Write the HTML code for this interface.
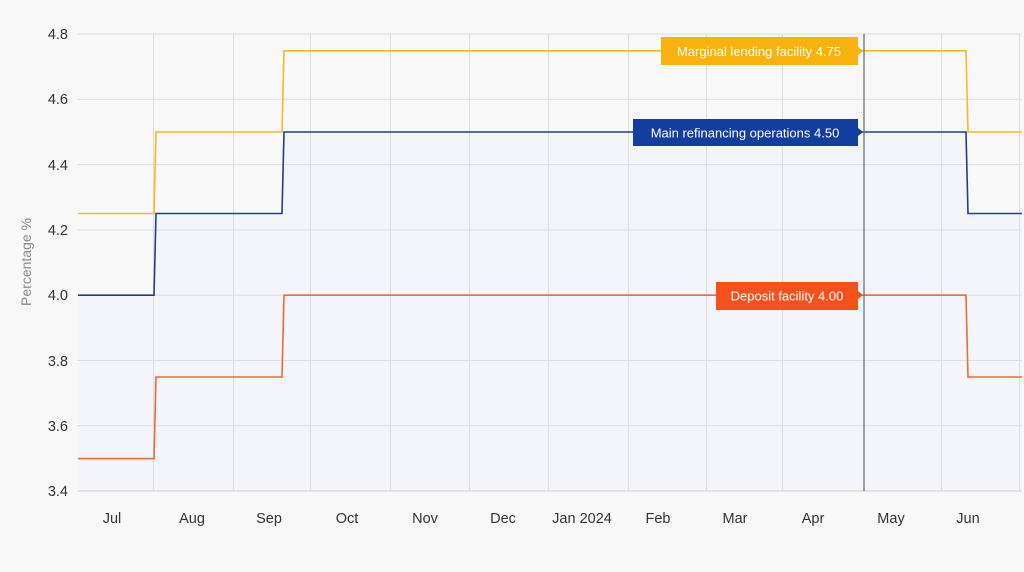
<!DOCTYPE html>
<html><head><meta charset="utf-8"><style>
html,body{margin:0;padding:0;background:#f8f8f9;}
svg{display:block;font-family:"Liberation Sans","DejaVu Sans",sans-serif;}
</style></head><body>
<svg width="1024" height="572" viewBox="0 0 1024 572">
<rect width="1024" height="572" fill="#f8f8f9"/>
<path d="M78,295 H154 L156,213.5 H282 L284,132 H966 L968,213.5 H1022 V491 H78Z" fill="#eef2fb" opacity="0.45"/>
<g stroke="#dcdde3" stroke-width="1">
<line x1="77" x2="1022" y1="34" y2="34"/><line x1="77" x2="1022" y1="99.3" y2="99.3"/>
<line x1="77" x2="1022" y1="164.6" y2="164.6"/><line x1="77" x2="1022" y1="229.9" y2="229.9"/>
<line x1="77" x2="1022" y1="295.2" y2="295.2"/><line x1="77" x2="1022" y1="360.5" y2="360.5"/>
<line x1="77" x2="1022" y1="425.8" y2="425.8"/><line x1="77" x2="1022" y1="491" y2="491" stroke="#cfd0d6"/>
<line x1="153.5" x2="153.5" y1="34" y2="491"/><line x1="233.5" x2="233.5" y1="34" y2="491"/>
<line x1="310.5" x2="310.5" y1="34" y2="491"/><line x1="390.5" x2="390.5" y1="34" y2="491"/>
<line x1="469.5" x2="469.5" y1="34" y2="491"/><line x1="548.5" x2="548.5" y1="34" y2="491"/>
<line x1="628.5" x2="628.5" y1="34" y2="491"/><line x1="706.5" x2="706.5" y1="34" y2="491"/>
<line x1="782.5" x2="782.5" y1="34" y2="491"/><line x1="941.5" x2="941.5" y1="34" y2="491"/>
<line x1="1019.5" x2="1019.5" y1="34" y2="491"/>
</g>
<g font-size="14.5" fill="#333" text-anchor="end">
<text x="68" y="39">4.8</text><text x="68" y="104">4.6</text><text x="68" y="170">4.4</text>
<text x="68" y="235">4.2</text><text x="68" y="300">4.0</text><text x="68" y="366">3.8</text>
<text x="68" y="431">3.6</text><text x="68" y="496">3.4</text>
</g>
<text transform="translate(31,262) rotate(-90)" text-anchor="middle" font-size="14" fill="#888">Percentage %</text>
<g font-size="14.5" fill="#333" text-anchor="middle">
<text x="112" y="523">Jul</text><text x="192" y="523">Aug</text><text x="269" y="523">Sep</text>
<text x="347" y="523">Oct</text><text x="425" y="523">Nov</text><text x="503" y="523">Dec</text>
<text x="582" y="523">Jan 2024</text><text x="658" y="523">Feb</text><text x="735" y="523">Mar</text>
<text x="813" y="523">Apr</text><text x="891" y="523">May</text><text x="968" y="523">Jun</text>
</g>
<g fill="none" stroke-width="1.6">
<path d="M78,213.5 H154 L156,132 H282 L284,50.8 H966 L968,132 H1022" stroke="#f6b924"/>
<path d="M78,295.2 H154 L156,213.5 H282 L284,132 H966 L968,213.5 H1022" stroke="#1d3f8f"/>
<path d="M78,458.6 H154 L156,377 H282 L284,295.2 H966 L968,377 H1022" stroke="#ef6a35"/>
</g>
<line x1="864" x2="864" y1="34" y2="491" stroke="#666" stroke-width="1.2"/>
<path d="M661,37 H858 V47 L863,51 L858,55 V65 H661Z" fill="#f8b20e"/>
<text x="759" y="56" text-anchor="middle" font-size="13" fill="#fff">Marginal lending facility 4.75</text>
<path d="M633,119 H858 V128 L863,132 L858,136 V146 H633Z" fill="#133d9e"/>
<text x="745" y="137.5" text-anchor="middle" font-size="13" fill="#fff">Main refinancing operations 4.50</text>
<path d="M716,282 H858 V291 L863,295 L858,299 V310 H716Z" fill="#f4511c"/>
<text x="787" y="300.5" text-anchor="middle" font-size="13" fill="#fff">Deposit facility 4.00</text>
</svg>
</body></html>
